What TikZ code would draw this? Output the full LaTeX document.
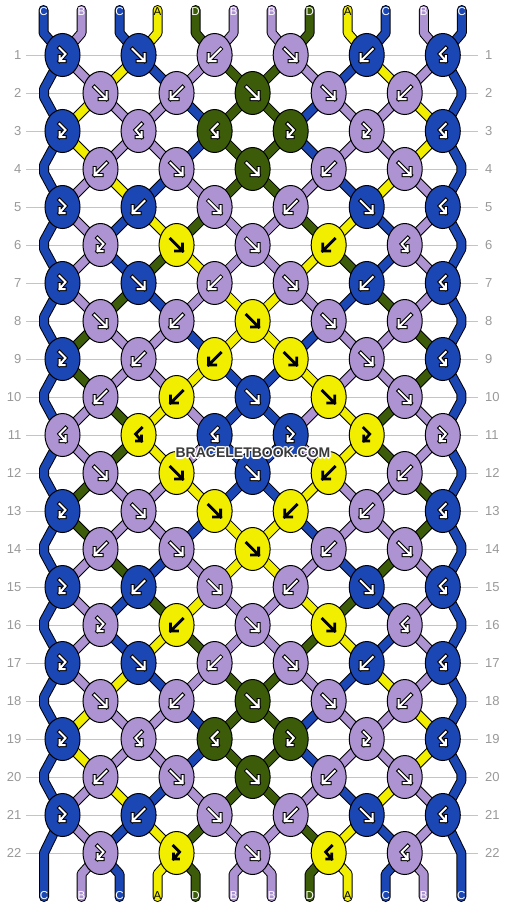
\documentclass[tikz,border=0pt]{standalone}
\usepackage{fontspec}
\setmainfont{Liberation Sans}
\usetikzlibrary{shapes.geometric}
\definecolor{colC}{HTML}{1B47B5}
\definecolor{colB}{HTML}{AD93D1}
\definecolor{colA}{HTML}{F2EE00}
\definecolor{colD}{HTML}{3D5C0A}
\definecolor{gridgray}{HTML}{C4C4C4}
\definecolor{labgray}{HTML}{999999}
\definecolor{wmgray}{HTML}{3A3A3A}
\tikzset{
  segout/.style={draw=black, line width=10pt},
  segin/.style={line width=8pt},
  endout/.style={draw=black, line width=10pt, line cap=round, line join=bevel},
  endin/.style={line width=8pt, line cap=round, line join=bevel},
  knot/.style={ellipse, draw=black, line width=1pt, minimum width=35pt, minimum height=43pt, inner sep=0pt},
  arrout/.style={draw=black, line width=4pt, line join=miter, line cap=rect},
  arrin/.style={draw=white, line width=2pt, line join=miter, line cap=rect},
  arrY/.style={draw=black, line width=2.8pt, line join=miter, line cap=rect},
  gridline/.style={draw=gridgray, line width=1pt},
  rowlab/.style={text=labgray, font=\fontsize{13}{15}\selectfont, inner sep=0pt},
  endlab/.style={font=\fontsize{11.5}{13}\selectfont, inner sep=0pt},
  wm/.style={font=\bfseries\fontsize{14}{16}\selectfont, inner sep=0pt}
}
\newcommand\knarrf[1]{\draw[#1] (-6,-6) -- (6,6) (6,-1) -- (6,6) -- (-1,6);}
\newcommand\knarrb[1]{\draw[#1] (6,-6) -- (-6,6) (-6,-1) -- (-6,6) -- (1,6);}
\newcommand\knarrfb[1]{\draw[#1] (-3,-7) -- (3,-1) -- (-3,6) (-3,1) -- (-3,6) -- (2,6);}
\newcommand\knarrbf[1]{\draw[#1] (3,-7) -- (-3,-1) -- (3,6) (3,1) -- (3,6) -- (-2,6);}
\newcommand\segrow[2]{%
  \pgfmathtruncatemacro\rnext{#1+1}%
  \foreach \cc [count=\pp from 2] in {#2} {%
    \ifodd#1\relax
      \pgfmathtruncatemacro\ka{(\pp+1)/2}\pgfmathtruncatemacro\kb{\pp/2}%
    \else
      \pgfmathtruncatemacro\ka{\pp/2}\pgfmathtruncatemacro\kb{(\pp+1)/2}%
    \fi
    \draw[segout] (k-#1-\ka) -- (k-\rnext-\kb);
    \draw[segin, draw=col\cc] (k-#1-\ka) -- (k-\rnext-\kb);
  }}
\newcommand\knotrow[2]{%
  \foreach \ty/\cc [count=\ii] in {#2} {%
    \node[knot, fill=col\cc] (n-#1-\ii) at (k-#1-\ii) {};
    \begin{scope}[shift={(k-#1-\ii)}]
      \def\tmpA{A}\edef\tmpc{\cc}%
      \ifx\tmpc\tmpA
        \csname knarr\ty\endcsname{arrY}%
      \else
        \csname knarr\ty\endcsname{arrout}%
        \csname knarr\ty\endcsname{arrin}%
      \fi
    \end{scope}
  }}
\begin{document}
\begin{tikzpicture}[x=1pt, y=-1pt]
\fill[white] (0,0) rectangle (506,908);
\useasboundingbox (0,0) rectangle (506,908);
% grid lines, row labels, knot positions
\foreach \rr in {1,...,22} {
  \pgfmathsetmacro\yy{55+38*(\rr-1)}
  \draw[gridline] (26,\yy) -- (478,\yy);
  \node[rowlab, anchor=east] (ll\rr) at (21.5,\yy) {\rr};
  \node[rowlab, anchor=west] (rl\rr) at (485,\yy) {\rr};
  \ifodd\rr\relax
    \foreach \ii in {1,...,6} { \coordinate (k-\rr-\ii) at ({62.5+76.06*(\ii-1)},\yy); }
  \else
    \foreach \ii in {1,...,5} { \coordinate (k-\rr-\ii) at ({100.5+76.06*(\ii-1)},\yy); }
  \fi
}
% edge strings (zig-zag)
\foreach \jj in {1,3,...,19} {
  \pgfmathtruncatemacro\jn{\jj+2}
  \pgfmathsetmacro\ya{55+38*\jj-4}
  \pgfmathsetmacro\yb{55+38*\jj+4}
  \draw[endout, line cap=butt] (k-\jj-1) -- (44,\ya) -- (44,\yb) -- (k-\jn-1);
  \draw[endin, line cap=butt, draw=colC] (k-\jj-1) -- (44,\ya) -- (44,\yb) -- (k-\jn-1);
  \draw[endout, line cap=butt] (k-\jj-6) -- (461.3,\ya) -- (461.3,\yb) -- (k-\jn-6);
  \draw[endin, line cap=butt, draw=colC] (k-\jj-6) -- (461.3,\ya) -- (461.3,\yb) -- (k-\jn-6);
}
\draw[endout] (k-21-1) -- (44,853) -- (44,897);
\draw[endin, draw=colC] (k-21-1) -- (44,853) -- (44,897);
\draw[endout] (k-21-6) -- (461.3,853) -- (461.3,897);
\draw[endin, draw=colC] (k-21-6) -- (461.3,853) -- (461.3,897);
\node[endlab, text=white] (bot1) at (44,896) {C};
\node[endlab, text=white] (bot12) at (461.3,896) {C};
% top strings
\foreach \cc/\tc [count=\pp] in {C/white,B/white,C/white,A/black,D/white,B/white,B/white,D/white,A/black,C/white,B/white,C/white} {
  \pgfmathtruncatemacro\ki{(\pp+1)/2}
  \pgfmathsetmacro\xt{62.5+76.06*(\ki-1)+(mod(\pp,2)==1 ? -19 : 19)}
  \draw[endout] (\xt,10) -- (\xt,33) -- (k-1-\ki);
  \draw[endin, draw=col\cc] (\xt,10) -- (\xt,33) -- (k-1-\ki);
  \node[endlab, text=\tc] (top\pp) at (\xt,12) {\cc};
}
% bottom strings
\foreach \cc/\tc [count=\pp from 2] in {B/white,C/white,A/black,D/white,B/white,B/white,D/white,A/black,C/white,B/white} {
  \pgfmathtruncatemacro\ki{\pp/2}
  \pgfmathsetmacro\xb{100.5+76.06*(\ki-1)+(mod(\pp,2)==0 ? -19 : 19)}
  \draw[endout] (k-22-\ki) -- (\xb,874) -- (\xb,897);
  \draw[endin, draw=col\cc] (k-22-\ki) -- (\xb,874) -- (\xb,897);
  \node[endlab, text=\tc] (bot\pp) at (\xb,896) {\cc};
}
% segments between knots
\segrow{1}{B,A,C,B,D,D,B,C,A,B}
\segrow{2}{A,B,B,C,D,D,C,B,B,A}
\segrow{3}{A,B,B,C,D,D,C,B,B,A}
\segrow{4}{B,A,C,B,D,D,B,C,A,B}
\segrow{5}{B,C,A,D,B,B,D,A,C,B}
\segrow{6}{B,C,D,A,B,B,A,D,C,B}
\segrow{7}{B,D,C,B,A,A,B,C,D,B}
\segrow{8}{D,B,B,C,A,A,C,B,B,D}
\segrow{9}{D,B,B,A,C,C,A,B,B,D}
\segrow{10}{B,D,A,B,C,C,B,A,D,B}
\segrow{11}{B,D,A,B,C,C,B,A,D,B}
\segrow{12}{D,B,B,A,C,C,A,B,B,D}
\segrow{13}{D,B,B,C,A,A,C,B,B,D}
\segrow{14}{B,D,C,B,A,A,B,C,D,B}
\segrow{15}{B,C,D,A,B,B,A,D,C,B}
\segrow{16}{B,C,A,D,B,B,D,A,C,B}
\segrow{17}{B,A,C,B,D,D,B,C,A,B}
\segrow{18}{A,B,B,C,D,D,C,B,B,A}
\segrow{19}{A,B,B,C,D,D,C,B,B,A}
\segrow{20}{B,A,C,B,D,D,B,C,A,B}
\segrow{21}{B,C,A,D,B,B,D,A,C,B}
% knots
\knotrow{1}{fb/C,f/C,b/B,f/B,b/C,bf/C}
\knotrow{2}{f/B,b/B,f/D,f/B,b/B}
\knotrow{3}{fb/C,bf/B,bf/D,fb/D,fb/B,bf/C}
\knotrow{4}{b/B,f/B,f/D,b/B,f/B}
\knotrow{5}{fb/C,b/C,f/B,b/B,f/C,bf/C}
\knotrow{6}{fb/B,f/A,f/B,b/A,bf/B}
\knotrow{7}{fb/C,f/C,b/B,f/B,b/C,bf/C}
\knotrow{8}{f/B,b/B,f/A,f/B,b/B}
\knotrow{9}{fb/C,b/B,b/A,f/A,f/B,bf/C}
\knotrow{10}{b/B,b/A,f/C,f/A,f/B}
\knotrow{11}{bf/B,bf/A,bf/C,fb/C,fb/A,fb/B}
\knotrow{12}{f/B,f/A,f/C,b/A,b/B}
\knotrow{13}{fb/C,f/B,f/A,b/A,b/B,bf/C}
\knotrow{14}{b/B,f/B,f/A,b/B,f/B}
\knotrow{15}{fb/C,b/C,f/B,b/B,f/C,bf/C}
\knotrow{16}{fb/B,b/A,f/B,f/A,bf/B}
\knotrow{17}{fb/C,f/C,b/B,f/B,b/C,bf/C}
\knotrow{18}{f/B,b/B,f/D,f/B,b/B}
\knotrow{19}{fb/C,bf/B,bf/D,fb/D,fb/B,bf/C}
\knotrow{20}{b/B,f/B,f/D,b/B,f/B}
\knotrow{21}{fb/C,b/C,f/B,b/B,f/C,bf/C}
\knotrow{22}{fb/B,fb/A,f/B,bf/A,bf/B}
% watermark
\foreach \dx/\dy [count=\ww] in {1.3/0,-1.3/0,0/1.3,0/-1.3,0.9/0.9,-0.9/0.9,0.9/-0.9,-0.9/-0.9} {
  \node[wm, text=white] (wmh\ww) at ({253+\dx},{453+\dy}) {BRACELETBOOK.COM};
}
\node[wm, text=wmgray] (wm) at (253,453) {BRACELETBOOK.COM};
\end{tikzpicture}
\end{document}
